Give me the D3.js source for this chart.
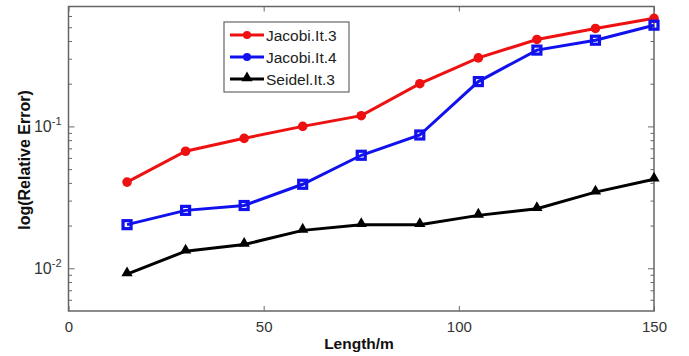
<!DOCTYPE html>
<html>
<head>
<meta charset="utf-8">
<script src="https://cdn.jsdelivr.net/npm/d3@7"></script>
<style>
body { margin: 0; background: #fff; }
text { font-family: Arial, "Liberation Sans", sans-serif; }
</style>
</head>
<body>
<div id="chart"></div>
<script>
// data
var lengths = [15, 30, 45, 60, 75, 90, 105, 120, 135, 150];
var jacobi3 = [0.0405, 0.0668, 0.0824, 0.100, 0.119, 0.200, 0.304, 0.410, 0.490, 0.578];
var jacobi4 = [0.0203, 0.0256, 0.0277, 0.0391, 0.0626, 0.0870, 0.207, 0.345, 0.405, 0.517];
var seidel3 = [0.0091, 0.0132, 0.0147, 0.0185, 0.0203, 0.0203, 0.0236, 0.0263, 0.0344, 0.0424];
var seriesNames = ["Jacobi.It.3", "Jacobi.It.4", "Seidel.It.3"];
var seriesColors = ["#ee1111", "#1111ee", "#000000"];
var xTicks = [0, 50, 100, 150];
var yMajor = [0.01, 0.1];
var yMinor = [0.006, 0.007, 0.008, 0.009, 0.02, 0.03, 0.04, 0.05, 0.06, 0.07, 0.08, 0.09, 0.2, 0.3, 0.4, 0.5, 0.6];

var W = 689, H = 356;
var margin = {top: 6.5, right: 35, bottom: 45, left: 68.5};

var svg = d3.select("#chart").append("svg")
    .attr("width", W)
    .attr("height", H);

var x = d3.scaleLinear().domain([0, 150]).range([margin.left, W - margin.right]);
var y = d3.scaleLog().domain([0.005, 0.7]).range([H - margin.bottom, margin.top]);

var axisColor = "#666";

// box
svg.append("rect")
    .attr("x", x(0)).attr("y", y(0.7))
    .attr("width", x(150) - x(0)).attr("height", y(0.005) - y(0.7))
    .attr("fill", "none").attr("stroke", axisColor).attr("stroke-width", 1.5);

// axes with inward ticks
function styleAxis(g) {
    g.select(".domain").remove();
    g.selectAll(".tick line").attr("stroke", axisColor).attr("stroke-width", 1);
    g.selectAll(".tick text").attr("fill", "#333").attr("font-size", 15);
}

svg.append("g")
    .attr("transform", "translate(0," + y(0.005) + ")")
    .call(d3.axisBottom(x).tickValues(xTicks).tickSize(-5).tickPadding(10).tickFormat(d3.format("d")))
    .call(styleAxis);
svg.append("g")
    .attr("transform", "translate(0," + y(0.7) + ")")
    .call(d3.axisTop(x).tickValues(xTicks).tickSize(-5).tickFormat(""))
    .call(styleAxis);

svg.append("g")
    .attr("transform", "translate(" + x(0) + ",0)")
    .call(d3.axisLeft(y).tickValues(yMajor).tickSize(-6).tickFormat(""))
    .call(styleAxis);
svg.append("g")
    .attr("transform", "translate(" + x(0) + ",0)")
    .call(d3.axisLeft(y).tickValues(yMinor).tickSize(-3.5).tickFormat(""))
    .call(styleAxis);
svg.append("g")
    .attr("transform", "translate(" + x(150) + ",0)")
    .call(d3.axisRight(y).tickValues(yMajor).tickSize(-6).tickFormat(""))
    .call(styleAxis);
svg.append("g")
    .attr("transform", "translate(" + x(150) + ",0)")
    .call(d3.axisRight(y).tickValues(yMinor).tickSize(-3.5).tickFormat(""))
    .call(styleAxis);

// y tick labels with superscript
var exps = ["-2", "-1"];
yMajor.forEach(function (v, i) {
    var t = svg.append("text")
        .attr("x", x(0) - 7)
        .attr("y", y(v) + 6)
        .attr("text-anchor", "end")
        .attr("fill", "#333")
        .attr("font-size", 16);
    t.append("tspan").text("10");
    t.append("tspan").attr("dy", -7).attr("font-size", 11).text(exps[i]);
});

// axis titles
svg.append("text")
    .attr("x", 359)
    .attr("y", 349)
    .attr("text-anchor", "middle")
    .attr("font-size", 15.5)
    .attr("font-weight", "bold")
    .attr("fill", "#111")
    .text("Length/m");

svg.append("text")
    .attr("transform", "translate(29.5,160) rotate(-90)")
    .attr("text-anchor", "middle")
    .attr("font-size", 16)
    .attr("font-weight", "bold")
    .attr("fill", "#111")
    .text("log(Relative Error)");

// series
var allSeries = [jacobi3, jacobi4, seidel3];
var line = d3.line()
    .x(function (d, i) { return x(lengths[i]); })
    .y(function (d) { return y(d); });

var triangle = d3.symbol().type(d3.symbolTriangle).size(55);

function drawMarker(g, k, px, py) {
    if (k === 0) {
        g.append("circle").attr("cx", px).attr("cy", py).attr("r", 4.8)
            .attr("fill", seriesColors[k]);
    } else if (k === 1) {
        g.append("rect").attr("x", px - 4).attr("y", py - 4).attr("width", 8).attr("height", 8)
            .attr("fill", "none").attr("stroke", seriesColors[k]).attr("stroke-width", 3.2);
    } else {
        g.append("path").attr("d", triangle)
            .attr("transform", "translate(" + px + "," + (py - 1) + ")")
            .attr("fill", seriesColors[k]);
    }
}

allSeries.forEach(function (vals, k) {
    var g = svg.append("g");
    g.append("path")
        .datum(vals)
        .attr("d", line)
        .attr("fill", "none")
        .attr("stroke", seriesColors[k])
        .attr("stroke-width", 3);
    vals.forEach(function (v, i) {
        drawMarker(g, k, x(lengths[i]), y(v));
    });
});

// legend
var lg = svg.append("g");
lg.append("rect")
    .attr("x", 224).attr("y", 22)
    .attr("width", 125).attr("height", 70)
    .attr("fill", "#fff").attr("stroke", axisColor).attr("stroke-width", 1.2);
seriesNames.forEach(function (name, k) {
    var ly = 35 + k * 22;
    lg.append("line")
        .attr("x1", 230).attr("x2", 264)
        .attr("y1", ly).attr("y2", ly)
        .attr("stroke", seriesColors[k]).attr("stroke-width", 3);
    if (k === 2) {
        lg.append("path").attr("d", triangle)
            .attr("transform", "translate(247," + (ly - 1) + ")")
            .attr("fill", seriesColors[k]);
    } else {
        lg.append("circle").attr("cx", 247).attr("cy", ly).attr("r", 4)
            .attr("fill", seriesColors[k]);
    }
    lg.append("text")
        .attr("x", 266).attr("y", ly + 5.5)
        .attr("font-size", 15.5)
        .attr("fill", "#222")
        .text(name);
});
</script>
</body>
</html>
